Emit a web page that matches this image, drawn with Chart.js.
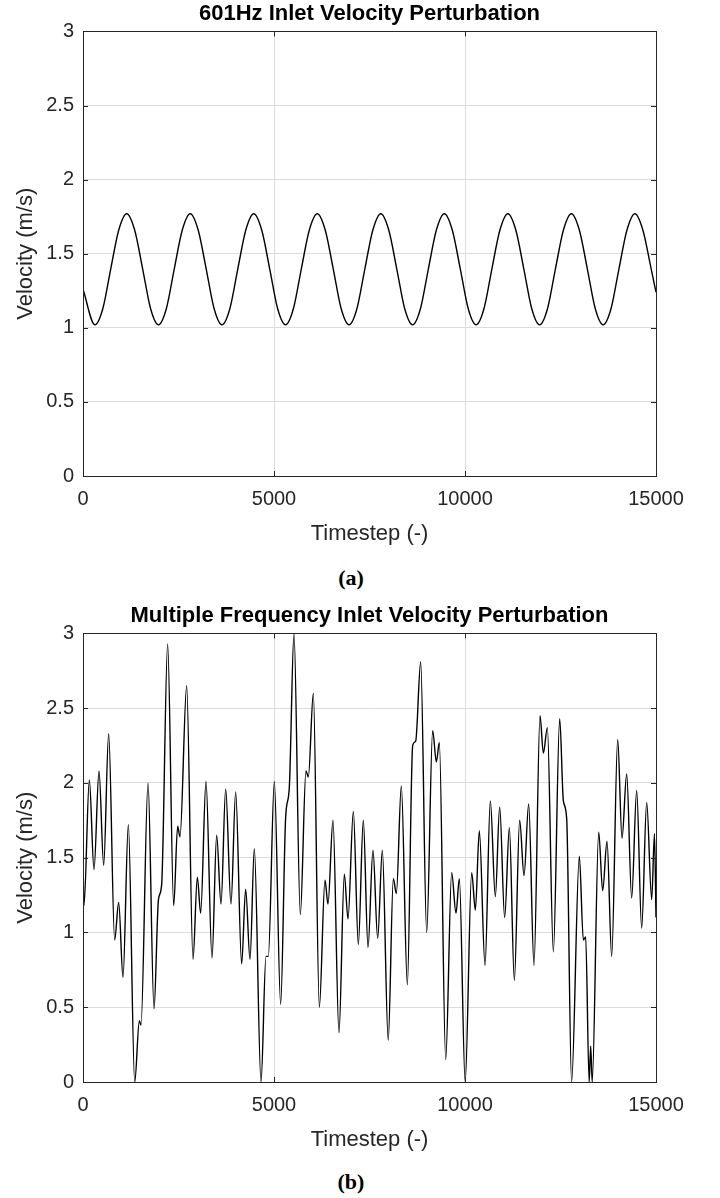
<!DOCTYPE html>
<html>
<head>
<meta charset="utf-8">
<script src="https://cdn.jsdelivr.net/npm/chart.js@4.4.0/dist/chart.umd.min.js"></script>
<style>
  body { margin: 0; background: #fff; }
  #page { position: relative; width: 720px; height: 1198px; }
  .box { position: absolute; left: 0; }
  .box canvas { display: block; }
  .cap { position: absolute; left: 0; width: 702px; text-align: center;
         font: bold 22px/26px "Liberation Serif", serif; color: #000; }
</style>
</head>
<body>
<div id="page">
  <div class="box" style="top:0"><canvas id="chartA" width="720" height="560"></canvas></div>
  <div class="cap" style="top:565px">(a)</div>
  <div class="box" style="top:602px"><canvas id="chartB" width="720" height="564"></canvas></div>
  <div class="cap" style="top:1169px">(b)</div>
</div>
<script>
// (a) 601Hz perturbation (timestep, velocity)
const stepsA = [0, 313, 520, 728, 936, 1144, 1352, 1560, 1768, 1976, 2183, 2391, 2599, 2807,
  3015, 3223, 3431, 3639, 3846, 4054, 4262, 4470, 4678, 4886, 5094, 5302, 5509, 5717, 5925,
  6133, 6341, 6549, 6757, 6965, 7172, 7380, 7588, 7796, 8004, 8212, 8420, 8628, 8835, 9043,
  9251, 9459, 9667, 9875, 10083, 10291, 10498, 10706, 10914, 11122, 11330, 11538, 11746,
  11954, 12161, 12369, 12577, 12785, 12993, 13201, 13409, 13617, 13824, 14032, 14240, 14448,
  14656, 14864, 15000];
const velA = [1.26, 1.02, 1.13, 1.40, 1.66, 1.77, 1.66, 1.40, 1.13, 1.02, 1.13, 1.40, 1.66, 1.77,
  1.66, 1.40, 1.13, 1.02, 1.13, 1.40, 1.66, 1.77, 1.66, 1.40, 1.13, 1.02, 1.13, 1.40, 1.66,
  1.77, 1.66, 1.40, 1.13, 1.02, 1.13, 1.40, 1.66, 1.77, 1.66, 1.40, 1.13, 1.02, 1.13, 1.40,
  1.66, 1.77, 1.66, 1.40, 1.13, 1.02, 1.13, 1.40, 1.66, 1.77, 1.66, 1.40, 1.13,
  1.02, 1.13, 1.40, 1.66, 1.77, 1.66, 1.40, 1.13, 1.02, 1.13, 1.40, 1.66, 1.77,
  1.66, 1.41, 1.24];

// (b) multiple frequency perturbation, peaks / troughs / shoulders
const stepsB = [0, 26, 166, 288, 419, 541, 672, 829, 934, 1047, 1187, 1354, 1475, 1518, 1702,
  1859, 1975, 2059, 2216, 2374, 2478, 2539, 2714, 2880, 2993, 3080, 3220, 3377, 3499, 3613,
  3735, 3874, 3997, 4153, 4258, 4372, 4485, 4660, 4790, 4851, 5009, 5174, 5305, 5401, 5523,
  5689, 5837, 5899, 6030, 6187, 6335, 6413, 6544, 6701, 6841, 6937, 7077, 7208, 7338, 7461,
  7591, 7714, 7836, 7990, 8124, 8203, 8333, 8491, 8630, 8709, 8840, 8997, 9154, 9250, 9328,
  9495, 9651, 9764, 9852, 10005, 10175, 10271, 10375, 10524, 10663, 10794, 10908, 11038,
  11161, 11292, 11431, 11545, 11667, 11806, 11964, 12051, 12156, 12313, 12479, 12575, 12662,
  12790, 12993, 13098, 13159, 13250, 13290, 13330, 13500, 13604, 13718, 13840, 13997, 14110,
  14233, 14363, 14494, 14625, 14756, 14887, 14960, 15000];
const velB = [1.50, 1.18, 2.02, 1.42, 2.08, 1.45, 2.33, 0.95, 1.20, 0.70, 1.72, 0.00, 0.41, 0.38, 2.00,
  0.49, 1.22, 1.32, 2.93, 1.18, 1.71, 1.64, 2.65, 0.82, 1.37, 1.13, 2.01, 0.83, 1.65, 1.19,
  1.96, 1.19, 1.94, 0.79, 1.29, 0.82, 1.56, 0.00, 0.84, 0.84, 2.01, 0.52, 1.77, 1.97, 3.00,
  1.12, 2.08, 2.04, 2.60, 0.50, 1.35, 1.19, 1.75, 0.33, 1.39, 1.09, 1.81, 0.92, 1.75, 0.90,
  1.55, 0.96, 1.55, 0.28, 1.36, 1.26, 1.98, 0.65, 2.25, 2.28, 2.81, 1.00, 2.35, 2.14, 2.27,
  0.15, 1.40, 1.13, 1.36, 0.00, 1.40, 1.15, 1.68, 0.78, 1.88, 1.24, 1.84, 1.10,
  1.70, 0.68, 1.75, 1.38, 1.86, 0.78, 2.45, 2.20, 2.37, 0.87, 2.43, 1.88, 1.76,
  0.00, 1.51, 0.95, 0.97, 0.00, 0.24, 0.00, 1.67, 1.28, 1.61, 0.84, 2.29, 1.63,
  2.06, 1.23, 1.95, 1.03, 1.87, 1.22, 1.66, 1.10];

const xTickStep = 5000;
const yTickStep = 0.5;

// box around the axes plus inward tick marks, MATLAB style
const frame = {
  id: 'frame',
  afterDatasetsDraw(chart) {
    const { ctx, chartArea: a, scales } = chart;
    const len = 5;
    ctx.save();
    ctx.strokeStyle = '#262626';
    ctx.lineWidth = 1;
    ctx.beginPath();
    scales.x.ticks.forEach(t => {
      const px = Math.round(scales.x.getPixelForValue(t.value)) + 0.5;
      ctx.moveTo(px, a.bottom); ctx.lineTo(px, a.bottom - len);
      ctx.moveTo(px, a.top); ctx.lineTo(px, a.top + len);
    });
    scales.y.ticks.forEach(t => {
      const py = Math.round(scales.y.getPixelForValue(t.value)) + 0.5;
      ctx.moveTo(a.left, py); ctx.lineTo(a.left + len, py);
      ctx.moveTo(a.right, py); ctx.lineTo(a.right - len, py);
    });
    ctx.stroke();
    ctx.strokeRect(Math.round(a.left) + 0.5, Math.round(a.top) + 0.5,
                   Math.round(a.width), Math.round(a.height));
    ctx.restore();
  }
};

const font = size => ({ family: '"Liberation Sans", Arial, sans-serif', size });

function makeChart(id, title, steps, vel) {
  return new Chart(document.getElementById(id), {
    type: 'line',
    data: {
      datasets: [{
        data: steps.map((x, i) => ({ x, y: vel[i] })),
        borderColor: '#000',
        borderWidth: 1.4,
        pointRadius: 0,
        cubicInterpolationMode: 'monotone',
        fill: false
      }]
    },
    options: {
      responsive: false,
      animation: false,
      devicePixelRatio: 1,
      layout: { padding: { left: 0, right: 64, top: 0, bottom: 0 } },
      plugins: {
        legend: { display: false },
        tooltip: { enabled: false },
        title: {
          display: true, text: title, fullSize: false, color: '#000',
          font: { family: '"Liberation Sans", Arial, sans-serif', size: 22, weight: 'bold' },
          padding: { top: 1, bottom: 4 }
        }
      },
      scales: {
        x: {
          type: 'linear', min: 0, max: 15000,
          afterFit: s => { s.height = 84; },
          ticks: { stepSize: xTickStep, callback: v => String(v), color: '#262626',
                   font: font(20), padding: 11, maxRotation: 0 },
          grid: { color: '#dcdcdc', drawTicks: false },
          border: { display: false },
          title: { display: true, text: 'Timestep (-)', color: '#262626', font: font(22),
                   padding: { top: 0, bottom: 13 } }
        },
        y: {
          min: 0, max: 3,
          afterFit: s => { s.width = 83; },
          ticks: { stepSize: yTickStep, callback: v => String(v), color: '#262626',
                   font: font(20), padding: 9 },
          grid: { color: '#dcdcdc', drawTicks: false },
          border: { display: false },
          title: { display: true, text: 'Velocity (m/s)', color: '#262626', font: font(22),
                   padding: { top: 13, bottom: 0 } }
        }
      }
    },
    plugins: [frame]
  });
}

makeChart('chartA', '601Hz Inlet Velocity Perturbation', stepsA, velA);
makeChart('chartB', 'Multiple Frequency Inlet Velocity Perturbation', stepsB, velB);
</script>
</body>
</html>
